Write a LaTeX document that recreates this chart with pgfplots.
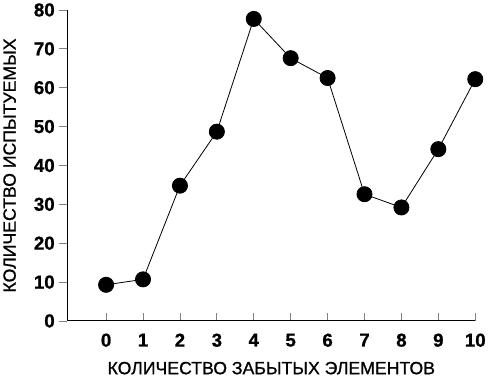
\documentclass[border=0pt]{standalone}
\usepackage{pgfplots}
\pgfplotsset{compat=1.18}
\usepackage{fontspec}
\setmainfont{Liberation Sans}[FakeBold=1.0]
\begin{document}
\begin{tikzpicture}
\begin{axis}[
  scale only axis,
  width=404pt, height=308pt,
  xmin=-1.05, xmax=10, ymin=0, ymax=80,
  axis x line*=bottom, axis y line*=left,
  axis line style={line width=1pt, -},
  xtick={0,...,10}, ytick={0,10,...,80},
  x tick style={line width=0.8pt},
  y tick style={line width=0.8pt},
  xtick align=inside, ytick align=outside,
  major tick length=8pt,
  tick label style={font=\fontsize{18.5}{20}\selectfont\bfseries},
  /pgf/number format/assume math mode=true,
  xticklabel style={yshift=-9pt},
  yticklabel style={xshift=-1pt},
  xlabel={КОЛИЧЕСТВО ЗАБЫТЫХ ЭЛЕМЕНТОВ},
  ylabel={КОЛИЧЕСТВО ИСПЫТУЕМЫХ},
  label style={font=\fontsize{17.5}{20}\selectfont},
  xlabel style={yshift=-8pt},
  ylabel style={yshift=11pt},
  clip=false,
]
\addplot[black, line width=0.8pt, mark=*, mark size=7.5pt, mark options={fill=black}]
coordinates {(0,9.3) (1,10.7) (2,34.8) (3,48.7) (4,77.7) (5,67.6) (6,62.5) (7,32.6) (8,29.2) (9,44.2) (10,62.2)};
\end{axis}
\end{tikzpicture}
\end{document}
